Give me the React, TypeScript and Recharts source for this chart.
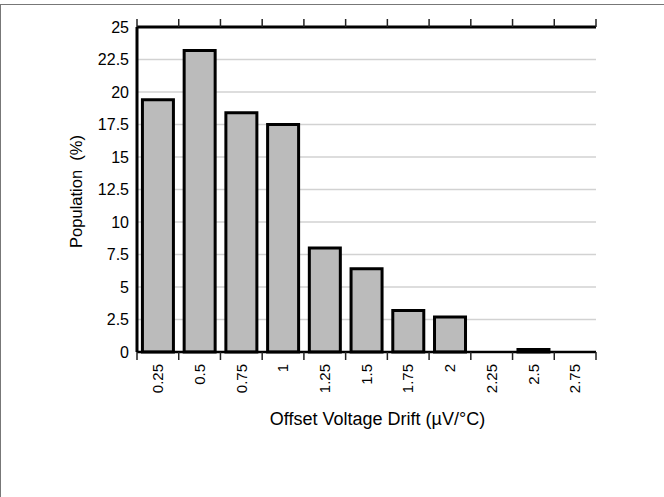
import React from "react";
import {
  BarChart,
  Bar,
  XAxis,
  YAxis,
  CartesianGrid,
} from "recharts";

// offset voltage drift bins (µV/°C) and population share (%)
const driftBins = ["0.25", "0.5", "0.75", "1", "1.25", "1.5", "1.75", "2", "2.25", "2.5", "2.75"];
const population = [19.4, 23.2, 18.4, 17.5, 8.0, 6.4, 3.2, 2.7, 0, 0.2, 0];
const yTicks = [0, 2.5, 5, 7.5, 10, 12.5, 15, 17.5, 20, 22.5, 25];

const data = driftBins.map((bin, i) => ({ bin, value: population[i] }));

const FONT = '"Liberation Sans", Arial, sans-serif';
const TICK_LEN = 8;
const BOTTOM_GAP = 4;

// bottom: tick marks sit on the bin edges, labels are rotated in the bin centre
const DriftTick = (props: any) => {
  const { x, y, payload, index, visibleTicksCount } = props;
  const half = payload.offset || 0;
  const y0 = y - TICK_LEN - BOTTOM_GAP;
  const last = index === visibleTicksCount - 1;
  return (
    <g>
      <line x1={x - half} x2={x - half} y1={y0} y2={y0 + TICK_LEN} stroke="#222" strokeWidth={1.5} />
      {last && (
        <line x1={x + half} x2={x + half} y1={y0} y2={y0 + TICK_LEN} stroke="#222" strokeWidth={1.5} />
      )}
      <text
        x={x}
        y={y}
        transform={`rotate(-90, ${x}, ${y})`}
        textAnchor="end"
        dy="0.35em"
        fontSize={15}
        fontFamily={FONT}
        fill="#000"
      >
        {payload.value}
      </text>
    </g>
  );
};

// top: only the edge tick marks
const EdgeTickTop = (props: any) => {
  const { x, y, payload, index, visibleTicksCount } = props;
  const half = payload.offset || 0;
  const last = index === visibleTicksCount - 1;
  return (
    <g>
      <line x1={x - half} x2={x - half} y1={y} y2={y + TICK_LEN} stroke="#222" strokeWidth={1.5} />
      {last && (
        <line x1={x + half} x2={x + half} y1={y} y2={y + TICK_LEN} stroke="#222" strokeWidth={1.5} />
      )}
    </g>
  );
};

export default function App() {
  return (
    <div style={{ position: "absolute", left: 0, top: 0, width: 664, height: 497, background: "#fff" }}>
      <div
        style={{
          position: "absolute",
          left: 0,
          top: 4,
          width: 664,
          height: 493,
          borderTop: "1.5px solid #777",
          borderLeft: "1px solid #777",
          boxSizing: "border-box",
        }}
      />
      <div style={{ position: "absolute", left: 0, top: 0 }}>
        <BarChart
          width={664}
          height={497}
          data={data}
          margin={{ top: 19, right: 68, bottom: 144, left: 0 }}
          barCategoryGap="13%"
        >
          <CartesianGrid vertical={false} stroke="#d2d2d2" strokeWidth={1.5} />
          <XAxis
            dataKey="bin"
            height={1}
            interval={0}
            tickLine={false}
            tickSize={TICK_LEN}
            tickMargin={BOTTOM_GAP}
            axisLine={{ stroke: "#000", strokeWidth: 2.5 }}
            tick={<DriftTick />}
            label={{
              value: "Offset Voltage Drift (µV/°C)",
              position: "bottom",
              offset: 59,
              dx: 11,
              fontSize: 18,
              fontFamily: FONT,
              fill: "#000",
            }}
          />
          <XAxis
            xAxisId="top"
            dataKey="bin"
            orientation="top"
            height={8}
            interval={0}
            tickLine={false}
            tickSize={TICK_LEN}
            tickMargin={0}
            axisLine={{ stroke: "#000", strokeWidth: 3 }}
            tick={<EdgeTickTop />}
          />
          <YAxis
            width={137}
            domain={[0, 25]}
            ticks={yTicks}
            interval={0}
            tickLine={false}
            axisLine={{ stroke: "#000", strokeWidth: 3 }}
            tick={{ fontSize: 16, fontFamily: FONT, fill: "#000" }}
            label={{
              value: "Population\u00a0\u00a0(%)",
              angle: -90,
              position: "center",
              dx: 8,
              dy: 2,
              fontSize: 16.5,
              fontFamily: FONT,
              fill: "#000",
            }}
          />
          <YAxis
            yAxisId="right"
            orientation="right"
            width={0}
            domain={[0, 25]}
            tick={false}
            tickLine={false}
            axisLine={{ stroke: "#000", strokeWidth: 3 }}
          />
          <Bar
            dataKey="value"
            fill="#bbbbbb"
            stroke="#000"
            strokeWidth={3}
            isAnimationActive={false}
          />
        </BarChart>
      </div>
    </div>
  );
}
